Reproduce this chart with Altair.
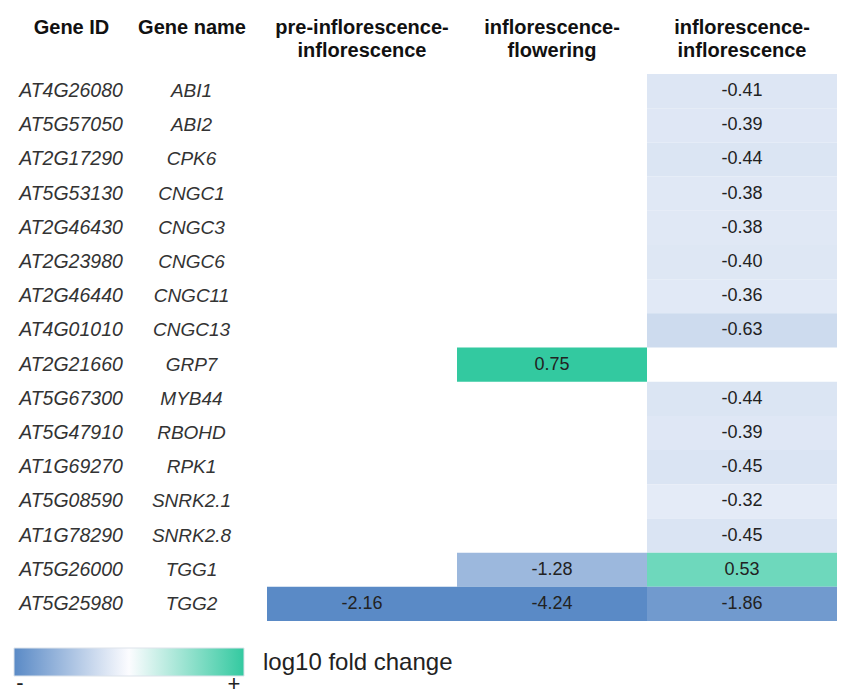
import altair as alt
import pandas as pd

gene_ids = ["AT4G26080", "AT5G57050", "AT2G17290", "AT5G53130", "AT2G46430", "AT2G23980",
            "AT2G46440", "AT4G01010", "AT2G21660", "AT5G67300", "AT5G47910", "AT1G69270",
            "AT5G08590", "AT1G78290", "AT5G26000", "AT5G25980"]
gene_names = ["ABI1", "ABI2", "CPK6", "CNGC1", "CNGC3", "CNGC6", "CNGC11", "CNGC13", "GRP7",
              "MYB44", "RBOHD", "RPK1", "SNRK2.1", "SNRK2.8", "TGG1", "TGG2"]
conditions = ["pre-inflorescence-inflorescence", "inflorescence-flowering", "inflorescence-inflorescence"]
pre_infl_infl = [None, None, None, None, None, None, None, None, None, None, None, None, None, None, None, -2.16]
infl_flowering = [None, None, None, None, None, None, None, None, 0.75, None, None, None, None, None, -1.28, -4.24]
infl_infl = [-0.41, -0.39, -0.44, -0.38, -0.38, -0.40, -0.36, -0.63, None, -0.44, -0.39, -0.45,
             -0.32, -0.45, 0.53, -1.86]

FONT = "Liberation Sans"

genes = pd.DataFrame({"gene_id": gene_ids, "gene_name": gene_names})
rows = []
for cond, vals in zip(conditions, [pre_infl_infl, infl_flowering, infl_infl]):
    for gid, v in zip(gene_ids, vals):
        if v is not None:
            rows.append({"gene_id": gid, "condition": cond, "value": v, "label": f"{v:.2f}"})
cells = pd.DataFrame(rows)

H = 547
yenc = alt.Y("gene_id:N", sort=gene_ids, axis=None,
             scale=alt.Scale(domain=gene_ids, paddingInner=0, paddingOuter=0))

def head_axis(offset=0):
    return alt.Axis(orient="top", title=None, domain=False, ticks=False, grid=False,
                    labelAngle=0, labelFont=FONT, labelFontSize=20, labelFontWeight="bold",
                    labelColor="#111111", labelBaseline="middle", labelPadding=47,
                    labelLineHeight=23, labelOffset=offset,
                    labelExpr="lastindexof(datum.label, '-') > 0 ? [slice(datum.label, 0, lastindexof(datum.label, '-') + 1), slice(datum.label, lastindexof(datum.label, '-') + 1)] : datum.label")

id_chart = alt.Chart(genes).transform_calculate(h="'Gene ID'").mark_text(
    font=FONT, fontSize=19.5, fontStyle="italic", color="#333333"
).encode(
    x=alt.X("h:N", axis=head_axis()),
    y=yenc,
    text="gene_id:N",
).properties(width=114, height=H)

name_chart = alt.Chart(genes).transform_calculate(h="'Gene name'").mark_text(
    font=FONT, fontSize=19, fontStyle="italic", color="#333333", dx=-6
).encode(
    x=alt.X("h:N", axis=head_axis(-6)),
    y=yenc,
    text="gene_name:N",
).properties(width=139, height=H)

xenc = alt.X("condition:N", sort=conditions, axis=head_axis(),
             scale=alt.Scale(domain=conditions, paddingInner=0, paddingOuter=0))

rects = alt.Chart(cells).mark_rect().encode(
    x=xenc,
    y=yenc,
    color=alt.Color("value:Q", legend=None,
                    scale=alt.Scale(domain=[-2.16, 0, 0.75],
                                    range=["#5a8ac6", "#fcfcff", "#33c9a0"],
                                    interpolate="rgb", clamp=True)),
)
labels = alt.Chart(cells).mark_text(font=FONT, fontSize=18, color="#222222").encode(
    x=xenc,
    y=yenc,
    text="label:N",
)
heat = alt.layer(rects, labels).properties(width=570, height=H)

top = alt.hconcat(id_chart, name_chart, heat, spacing=0)

legend_df = pd.DataFrame({"label": ["log10 fold change"], "neg": ["-"], "pos": ["+"]})
grad = alt.LinearGradient(
    gradient="linear", x1=0, x2=1, y1=0, y2=0,
    stops=[alt.GradientStop(offset=0, color="#5a8ac6"),
           alt.GradientStop(offset=0.5, color="#fcfcff"),
           alt.GradientStop(offset=1, color="#33c9a0")],
)
leg_bar = alt.Chart(legend_df).mark_rect(fill=grad, stroke="#dde3ea", strokeWidth=1).encode(
    x=alt.value(0), x2=alt.value(230), y=alt.value(0), y2=alt.value(28)
)
leg_title = alt.Chart(legend_df).mark_text(font=FONT, fontSize=24, align="left",
                                           baseline="middle", color="#222222").encode(
    x=alt.value(249), y=alt.value(15), text="label:N"
)
leg_neg = alt.Chart(legend_df).mark_text(font=FONT, fontSize=22, align="center",
                                         baseline="middle", color="#222222").encode(
    x=alt.value(6), y=alt.value(35), text="neg:N"
)
leg_pos = alt.Chart(legend_df).mark_text(font=FONT, fontSize=22, align="center",
                                         baseline="middle", color="#222222").encode(
    x=alt.value(220), y=alt.value(36), text="pos:N"
)
legend = alt.layer(leg_bar, leg_title, leg_neg, leg_pos).properties(width=460, height=48)

chart = alt.vconcat(top, legend, spacing=26).properties(
    padding={"left": 5, "top": 9, "right": 0, "bottom": 0},
    background="white",
).configure_view(stroke=None)

chart.save("out.html", embed_options={"renderer": "svg", "actions": False})
